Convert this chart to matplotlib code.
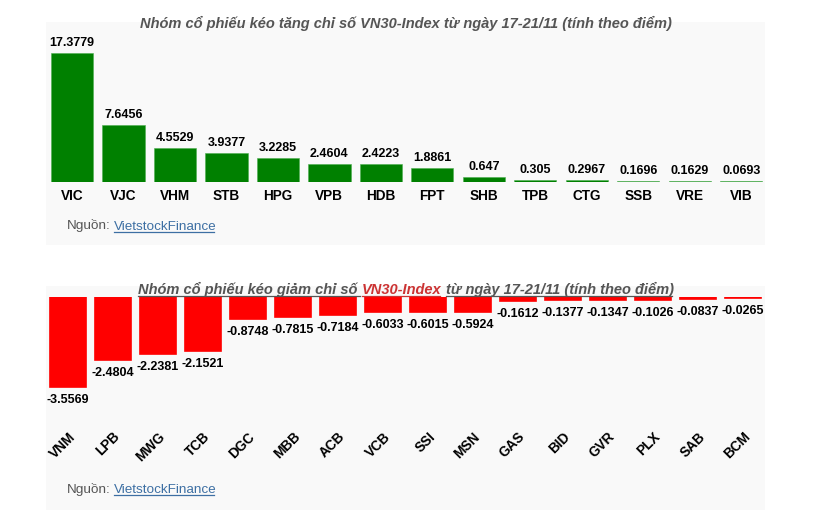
import matplotlib
matplotlib.use("Agg")
import matplotlib.pyplot as plt
from matplotlib.patches import Rectangle
from matplotlib.lines import Line2D

plt.rcParams['font.family'] = ['Liberation Sans', 'DejaVu Sans']

W, H = 813, 516

# data
up_codes = ["VIC", "VJC", "VHM", "STB", "HPG", "VPB", "HDB", "FPT",
            "SHB", "TPB", "CTG", "SSB", "VRE", "VIB"]
up_values = [17.3779, 7.6456, 4.5529, 3.9377, 3.2285, 2.4604, 2.4223, 1.8861,
             0.647, 0.305, 0.2967, 0.1696, 0.1629, 0.0693]

down_codes = ["VNM", "LPB", "MWG", "TCB", "DGC", "MBB", "ACB", "VCB",
              "SSI", "MSN", "GAS", "BID", "GVR", "PLX", "SAB", "BCM"]
down_values = [-3.5569, -2.4804, -2.2381, -2.1521, -0.8748, -0.7815, -0.7184, -0.6033,
               -0.6015, -0.5924, -0.1612, -0.1377, -0.1347, -0.1026, -0.0837, -0.0265]

title_up = "Nhóm cổ phiếu kéo tăng chỉ số VN30-Index từ ngày 17-21/11 (tính theo điểm)"
title_down = ["Nhóm cổ phiếu kéo giảm chỉ số", "VN30-Index", "từ ngày 17-21/11 (tính theo điểm)"]

gray = "#555555"
link = "#3d6fa3"

fig = plt.figure(figsize=(W / 100, H / 100), dpi=100)
fig.patch.set_facecolor("white")

def fx(x):
    return x / W

def fy(y):
    return 1 - y / H

# grey panels
for y0, y1 in [(22, 245), (286, 510)]:
    fig.patches.append(Rectangle((fx(46), fy(y1)), (765 - 46) / W, (y1 - y0) / H,
                                 transform=fig.transFigure, facecolor="#f9f9f9",
                                 edgecolor="none", zorder=-1))

# top chart
ax1 = fig.add_axes([fx(46.25), fy(182), (767 - 46.25) / W, 148 / H])
ax1.patch.set_alpha(0)
b1 = ax1.bar(up_codes, up_values, width=0.82, color="#008000",
             edgecolor="#4caf50", linewidth=0.4)
ax1.set_xlim(-0.5, len(up_codes) - 0.5)
ax1.set_ylim(0, 20)
ax1.bar_label(b1, labels=[str(v) for v in up_values], padding=3,
              fontsize=9, fontweight="bold", color="black")

# bottom chart
ax2 = fig.add_axes([fx(45.5), fy(418.4), (765.5 - 45.5) / W, (418.4 - 297) / H])
ax2.patch.set_alpha(0)
b2 = ax2.bar(down_codes, down_values, width=0.8, color="#ff0000",
             edgecolor="#ff0000", linewidth=1.2)
ax2.set_xlim(-0.5, len(down_codes) - 0.5)
ax2.set_ylim(-4.8, 0)
ax2.bar_label(b2, labels=[str(v) for v in down_values], padding=5,
              fontsize=9, fontweight="bold", color="black")

for ax in (ax1, ax2):
    for s in ax.spines.values():
        s.set_visible(False)
    ax.set_yticks([])
    ax.tick_params(axis="x", length=0)

ax1.tick_params(axis="x", pad=5)
for lab in ax1.get_xticklabels():
    lab.set_fontweight("bold")
    lab.set_fontsize(9.8)

ax2.tick_params(axis="x", pad=8)
for lab in ax2.get_xticklabels():
    lab.set_fontweight("bold")
    lab.set_fontsize(9.8)
    lab.set_rotation(45)
    lab.set_ha("right")
    lab.set_va("top")
    lab.set_rotation_mode("anchor")

fig.canvas.draw()
r = fig.canvas.get_renderer()


def width_of(s, **kw):
    t = fig.text(0, 0, s, **kw)
    w = t.get_window_extent(r).width
    t.remove()
    return w


def underline(x0, x1, y, color):
    fig.lines.append(Line2D([fx(x0), fx(x1)], [fy(y), fy(y)], transform=fig.transFigure,
                            color=color, linewidth=0.9, zorder=6))


tkw = dict(fontsize=10.5, fontweight="bold", fontstyle="italic")

# top title
fig.text(fx(406), fy(28), title_up, color=gray, ha="center", va="baseline", zorder=6, **tkw)

# bottom title in three pieces, whole line underlined
full = " ".join(title_down)
wfull = width_of(full, **tkw)
left = 406 - wfull / 2
w01 = width_of(title_down[0] + " " + title_down[1], **tkw)
w1 = width_of(title_down[1], **tkw)
w2 = width_of(title_down[2], **tkw)
x_red = left + w01 - w1
x_suf = left + wfull - w2
base = 294
fig.text(fx(left), fy(base), title_down[0], color=gray, ha="left", va="baseline", zorder=6, **tkw)
fig.text(fx(x_red), fy(base), title_down[1], color="#cc3333", ha="left", va="baseline", zorder=6, **tkw)
fig.text(fx(x_suf), fy(base), title_down[2], color=gray, ha="left", va="baseline", zorder=6, **tkw)
underline(left, x_red - 2, base + 2, gray)
underline(x_red, x_red + w1 - 2, base + 2, "#cc3333")
underline(x_suf, left + wfull - 2, base + 2, gray)

# source lines
skw = dict(fontsize=9.7)
w_src2 = width_of("Nguồn: VietstockFinance", **skw)
w_lnk = width_of("VietstockFinance", **skw)
for yb in (229.5, 493):
    fig.text(fx(67), fy(yb), "Nguồn:", color=gray, ha="left", va="baseline", **skw)
    xl = 67 + w_src2 - w_lnk - 1
    fig.text(fx(xl), fy(yb), "VietstockFinance", color=link, ha="left", va="baseline", **skw)
    underline(xl, xl + w_lnk - 2, yb + 2, link)

fig.savefig("out.png", dpi=100, facecolor="white")
